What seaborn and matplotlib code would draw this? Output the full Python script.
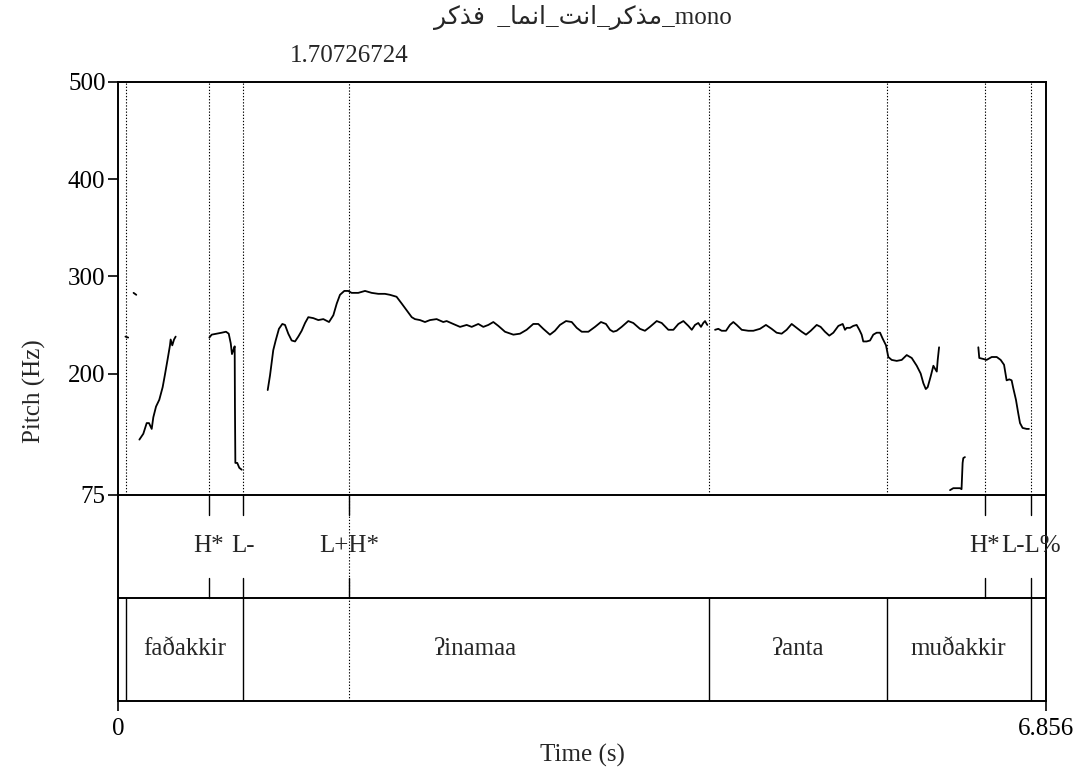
import matplotlib
matplotlib.use("Agg")
import matplotlib.pyplot as plt
import pandas as pd
import seaborn as sns

# ---- pitch track, one list pair per voiced stretch (time in s, F0 in Hz) ----
seg1_t = [0.055, 0.075]
seg1_f0 = [238, 237]

seg2_t = [0.115, 0.135]
seg2_f0 = [283, 281]

seg3_t = [0.158, 0.187, 0.212, 0.229, 0.249, 0.261, 0.281, 0.305, 0.330, 0.347,
          0.367, 0.384, 0.389, 0.401, 0.414, 0.426]
seg3_f0 = [132, 138, 149, 149, 143, 155, 166, 173, 186, 199,
           215, 229, 235, 229, 235, 238]

seg4_t = [0.675, 0.692, 0.729, 0.766, 0.798, 0.818, 0.833, 0.842, 0.852, 0.862,
          0.864, 0.867, 0.881, 0.896, 0.914]
seg4_f0 = [237, 240, 241, 242, 243, 241, 231, 220, 224, 228,
           166, 108, 108, 103, 101]

seg5_t = [1.106, 1.123, 1.147, 1.165, 1.189, 1.214, 1.234, 1.258, 1.283, 1.308,
          1.332, 1.357, 1.382, 1.406, 1.443, 1.480, 1.517, 1.559, 1.591, 1.616,
          1.640, 1.672, 1.701, 1.726, 1.775, 1.825, 1.874, 1.923, 1.972, 2.009,
          2.058, 2.096, 2.133, 2.170, 2.194, 2.231, 2.268, 2.305, 2.354, 2.403,
          2.428, 2.477, 2.527, 2.576, 2.613, 2.662, 2.699, 2.736, 2.773, 2.810,
          2.859, 2.921, 2.970, 3.019, 3.068, 3.105, 3.142, 3.191, 3.228, 3.265,
          3.310, 3.352, 3.389, 3.426, 3.475, 3.524, 3.568, 3.605, 3.635, 3.659,
          3.684, 3.721, 3.770, 3.807, 3.856, 3.893, 3.930, 3.980, 4.017, 4.066,
          4.103, 4.140, 4.177, 4.214, 4.239, 4.263, 4.287, 4.307, 4.324, 4.337,
          4.349, 4.354]
seg5_f0 = [183, 198, 224, 234, 246, 251, 250, 241, 234, 233,
           238, 244, 252, 258, 257, 255, 256, 253, 260, 272,
           281, 285, 285, 283, 283, 285, 283, 282, 282, 281,
           279, 272, 265, 258, 256, 255, 253, 255, 256, 253,
           254, 251, 248, 250, 248, 251, 248, 250, 253, 249,
           243, 240, 241, 245, 251, 251, 246, 240, 244, 250,
           254, 253, 247, 243, 243, 248, 253, 251, 245, 243,
           244, 248, 254, 252, 246, 244, 248, 254, 252, 245,
           245, 251, 254, 249, 245, 250, 252, 248, 252, 254,
           251, 250]

seg6_t = [4.411, 4.435, 4.460, 4.492, 4.521, 4.546, 4.571, 4.608, 4.657, 4.694,
          4.743, 4.787, 4.829, 4.866, 4.903, 4.940, 4.977, 5.014, 5.051, 5.083,
          5.118, 5.162, 5.191, 5.223, 5.255, 5.285, 5.322, 5.354, 5.371, 5.384,
          5.408, 5.432, 5.457, 5.477, 5.494, 5.506, 5.531, 5.556, 5.580, 5.605,
          5.630, 5.649, 5.674, 5.691, 5.716, 5.753, 5.790, 5.827, 5.864, 5.901,
          5.930, 5.950, 5.968, 5.982, 6.004, 6.024, 6.036, 6.049, 6.056, 6.066]
seg6_f0 = [245, 246, 244, 244, 250, 253, 250, 245, 244, 244,
           246, 250, 246, 242, 241, 245, 251, 247, 243, 240,
           244, 250, 248, 243, 239, 242, 249, 251, 245, 247,
           247, 249, 250, 245, 240, 233, 233, 234, 240, 242,
           242, 236, 229, 217, 214, 213, 214, 219, 216, 208,
           200, 190, 184, 186, 197, 208, 205, 202, 214, 227]

seg7_t = [6.147, 6.171, 6.220, 6.232, 6.240, 6.245, 6.257]
seg7_f0 = [80, 82, 82, 81, 108, 113, 114]

seg8_t = [6.356, 6.363, 6.393, 6.417, 6.455, 6.492, 6.521, 6.546, 6.565, 6.585,
          6.602, 6.614, 6.634, 6.651, 6.664, 6.683, 6.713, 6.730]
seg8_f0 = [227, 216, 215, 214, 217, 217, 214, 209, 193, 194,
           193, 185, 173, 159, 149, 144, 143, 143]

# ---- annotation tiers ----
tone_times = [0.672, 0.921, 1.707, 6.405, 6.743]
tone_labels = ["H*", "L-", "L+H*", "H*", "L-L%"]

word_bounds = [0.059, 0.921, 4.363, 5.679, 6.743]
word_labels = ["faðakkir", "ʔinamaa", "ʔanta", "muðakkir"]

cursor_time = 1.70726724
t_end = 6.856
f_min, f_max = 75, 500
y_ticks = [75, 200, 300, 400, 500]

# title: Arabic words written in shaped (presentation) forms, display order
w_fdkr = "\uFEAE\uFEDB\uFEAC\uFED3"
w_anma = "\uFE8E\uFEE4\uFEE7\uFE8D"
w_ant = "\uFE96\uFEE7\uFE8D"
w_mdkr = "\uFEAE\uFEDB\uFEAC\uFEE3"
title_text = f"{w_fdkr}  _{w_anma}_{w_ant}_{w_mdkr}_mono"

# ---- build table ----
segments = [(seg1_t, seg1_f0), (seg2_t, seg2_f0), (seg3_t, seg3_f0),
            (seg4_t, seg4_f0), (seg5_t, seg5_f0), (seg6_t, seg6_f0),
            (seg7_t, seg7_f0), (seg8_t, seg8_f0)]
frames = []
for i, (ts, fs) in enumerate(segments):
    frames.append(pd.DataFrame({"t": ts, "f0": fs, "seg": i}))
pitch = pd.concat(frames, ignore_index=True)

# ---- style ----
sns.set_style("ticks")
plt.rcParams["font.family"] = ["Liberation Serif", "DejaVu Serif", "DejaVu Sans"]
plt.rcParams["mathtext.default"] = "regular"
FS = 18

TIER = 106                      # height of one text tier, in pitch-axis units
y_bottom = f_min - 2 * TIER
LW = 1.4
dot = (0, (1.2, 1.6))

fig = plt.figure(figsize=(10.76, 7.70), dpi=100)
ax = fig.add_axes([118 / 1076, 1 - 701 / 770, 928 / 1076, 619 / 770])

sns.lineplot(data=pitch, x="t", y="f0", units="seg", estimator=None, sort=False,
             color="black", lw=1.3, ax=ax, legend=False)

ax.set_xlim(0, t_end)
ax.set_ylim(y_bottom, f_max)

# dotted guide lines over the pitch area
for t in sorted(set(word_bounds + tone_times)):
    if abs(t - cursor_time) < 0.01:
        continue
    ax.plot([t, t], [f_min, f_max], color="black", lw=0.8, ls=dot)
# cursor line through the whole picture
ax.plot([cursor_time, cursor_time], [y_bottom, f_max], color="black", lw=0.8, ls=dot)

# tier separators
ax.axhline(f_min, color="black", lw=LW)
ax.axhline(f_min - TIER, color="black", lw=LW)

# tone tier: point marks and labels
tick_h = 20.6
tone_mid = f_min - TIER / 2
for t, lab in zip(tone_times, tone_labels):
    ax.plot([t, t], [f_min, f_min - tick_h], color="black", lw=1.0)
    ax.plot([t, t], [f_min - TIER + tick_h, f_min - TIER], color="black", lw=1.0)
    ax.text(t, tone_mid, lab, ha="center", va="center", fontsize=FS)

# word tier: interval boundaries and labels
word_mid = f_min - 1.5 * TIER
for b in word_bounds:
    ax.plot([b, b], [f_min - TIER, y_bottom], color="black", lw=1.0)
for lab, a, b in zip(word_labels, word_bounds[:-1], word_bounds[1:]):
    ax.text((a + b) / 2, word_mid, lab, ha="center", va="center", fontsize=FS)

# axes, ticks, labels
ax.set_xticks([0, t_end])
ax.set_xticklabels(["0", "6.856"])
ax.set_yticks(y_ticks)
ax.set_yticklabels([str(v) for v in y_ticks])
ax.tick_params(direction="out", length=7, width=1.2, labelsize=FS,
               color="black", labelcolor="black")
ax.tick_params(axis="x", pad=5)
ax.tick_params(axis="y", pad=2)
for sp in ax.spines.values():
    sp.set_visible(True)
    sp.set_linewidth(LW)
    sp.set_color("black")

ax.set_xlabel("Time (s)", fontsize=FS, labelpad=3)
ax.set_ylabel("Pitch (Hz)", fontsize=FS, labelpad=16)

ax.text(cursor_time, f_max + 27, f"{cursor_time:.8f}", ha="center", va="center",
        fontsize=FS, clip_on=False)
fig.text(583 / 1076, 1 - 18 / 770, title_text, ha="center", va="center",
         fontsize=FS, family=["Liberation Serif", "DejaVu Sans"])

fig.savefig("out.png", dpi=100, facecolor="white")
